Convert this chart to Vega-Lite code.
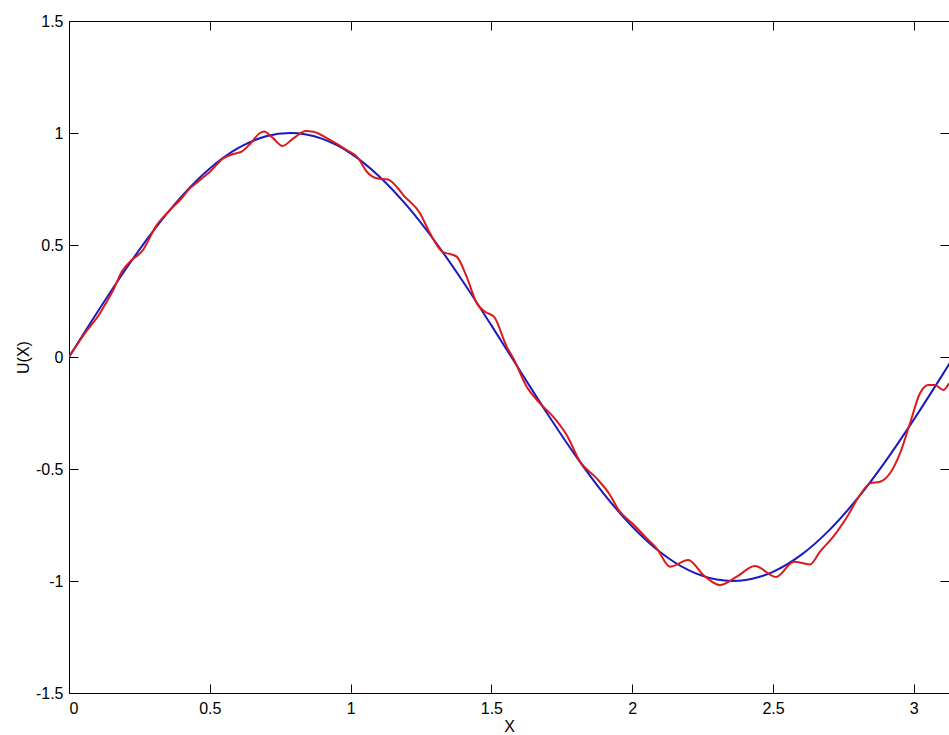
{
  "$schema": "https://vega.github.io/schema/vega-lite/v6.json",
  "autosize": "none",
  "padding": {"left": 69, "top": 21, "right": 0, "bottom": 42},
  "width": 880,
  "height": 672,
  "background": "white",
  "config": {
    "view": {"stroke": null},
    "axis": {
      "grid": false,
      "domainColor": "#000000",
      "domainWidth": 1,
      "tickColor": "#000000",
      "tickWidth": 1,
      "tickSize": -9,
      "labelFont": "Liberation Sans",
      "labelFontSize": 16,
      "labelColor": "#000000",
      "titleFont": "Liberation Sans",
      "titleFontSize": 16,
      "titleFontWeight": "normal",
      "titleColor": "#000000"
    }
  },
  "datasets": {
    "exact": [
      {"x": 0, "u": 0}, {"x": 0.1, "u": 0.1987}, {"x": 0.2, "u": 0.3894}, {"x": 0.3, "u": 0.5646},
      {"x": 0.4, "u": 0.7174}, {"x": 0.5, "u": 0.8415}, {"x": 0.6, "u": 0.932}, {"x": 0.7, "u": 0.9854},
      {"x": 0.7854, "u": 1.0}, {"x": 0.9, "u": 0.9738}, {"x": 1.0, "u": 0.9093}, {"x": 1.1, "u": 0.8085},
      {"x": 1.2, "u": 0.6755}, {"x": 1.3, "u": 0.5155}, {"x": 1.4, "u": 0.335}, {"x": 1.5, "u": 0.1411},
      {"x": 1.6, "u": -0.0584}, {"x": 1.7, "u": -0.2555}, {"x": 1.8, "u": -0.4425}, {"x": 1.9, "u": -0.6119},
      {"x": 2.0, "u": -0.7568}, {"x": 2.1, "u": -0.8716}, {"x": 2.2, "u": -0.9516}, {"x": 2.3, "u": -0.9937},
      {"x": 2.3562, "u": -1.0}, {"x": 2.45, "u": -0.9825}, {"x": 2.5, "u": -0.9589}, {"x": 2.6, "u": -0.8835},
      {"x": 2.7, "u": -0.7728}, {"x": 2.8, "u": -0.6313}, {"x": 2.9, "u": -0.4646}, {"x": 3.0, "u": -0.2794},
      {"x": 3.1, "u": -0.0831}, {"x": 3.1416, "u": 0}
    ],
    "approx": [
      {"x": 0, "u": 0}, {"x": 0.0568, "u": 0.106}, {"x": 0.1101, "u": 0.195}, {"x": 0.1339, "u": 0.247},
      {"x": 0.1573, "u": 0.299}, {"x": 0.1871, "u": 0.381}, {"x": 0.2227, "u": 0.433}, {"x": 0.2582, "u": 0.47},
      {"x": 0.3114, "u": 0.589}, {"x": 0.3587, "u": 0.656}, {"x": 0.3942, "u": 0.701}, {"x": 0.4297, "u": 0.753},
      {"x": 0.4652, "u": 0.79}, {"x": 0.5007, "u": 0.827}, {"x": 0.5479, "u": 0.887}, {"x": 0.5834, "u": 0.906},
      {"x": 0.6133, "u": 0.917}, {"x": 0.6428, "u": 0.951}, {"x": 0.6783, "u": 1.0}, {"x": 0.6925, "u": 1.007},
      {"x": 0.7255, "u": 0.976}, {"x": 0.7582, "u": 0.942}, {"x": 0.7965, "u": 0.976}, {"x": 0.8416, "u": 1.009},
      {"x": 0.8675, "u": 1.006}, {"x": 0.9268, "u": 0.969}, {"x": 0.9861, "u": 0.924}, {"x": 1.0245, "u": 0.891},
      {"x": 1.0582, "u": 0.826}, {"x": 1.0927, "u": 0.798}, {"x": 1.1328, "u": 0.792}, {"x": 1.1637, "u": 0.76},
      {"x": 1.1872, "u": 0.723}, {"x": 1.2464, "u": 0.642}, {"x": 1.282, "u": 0.552}, {"x": 1.3292, "u": 0.467},
      {"x": 1.353, "u": 0.46}, {"x": 1.3768, "u": 0.448}, {"x": 1.4123, "u": 0.358}, {"x": 1.4478, "u": 0.24},
      {"x": 1.4773, "u": 0.202}, {"x": 1.5092, "u": 0.18}, {"x": 1.5543, "u": 0.046}, {"x": 1.5778, "u": -0.006},
      {"x": 1.6254, "u": -0.133}, {"x": 1.6726, "u": -0.207}, {"x": 1.7198, "u": -0.267}, {"x": 1.7674, "u": -0.348},
      {"x": 1.8146, "u": -0.467}, {"x": 1.8739, "u": -0.542}, {"x": 1.9212, "u": -0.616}, {"x": 1.9496, "u": -0.679},
      {"x": 2.0064, "u": -0.75}, {"x": 2.0572, "u": -0.817}, {"x": 2.087, "u": -0.854}, {"x": 2.1342, "u": -0.936},
      {"x": 2.1992, "u": -0.906}, {"x": 2.2525, "u": -0.973}, {"x": 2.3118, "u": -1.018}, {"x": 2.3711, "u": -0.981},
      {"x": 2.4361, "u": -0.933}, {"x": 2.5107, "u": -0.982}, {"x": 2.5746, "u": -0.914}, {"x": 2.6314, "u": -0.926},
      {"x": 2.6669, "u": -0.869}, {"x": 2.7141, "u": -0.802}, {"x": 2.7628, "u": -0.714}, {"x": 2.8089, "u": -0.616},
      {"x": 2.8445, "u": -0.564}, {"x": 2.88, "u": -0.557}, {"x": 2.9155, "u": -0.519}, {"x": 2.951, "u": -0.43},
      {"x": 2.9865, "u": -0.296}, {"x": 3.022, "u": -0.162}, {"x": 3.0515, "u": -0.125}, {"x": 3.0753, "u": -0.125},
      {"x": 3.1048, "u": -0.147}, {"x": 3.125, "u": -0.117}
    ]
  },
  "layer": [
    {
      "data": {"name": "exact"},
      "mark": {"type": "line", "color": "#1a1ac0", "strokeWidth": 2, "interpolate": "monotone", "clip": true},
      "encoding": {
        "x": {"field": "x", "type": "quantitative", "scale": {"domain": [0, 3.125], "nice": false, "zero": false},
              "axis": {"orient": "bottom", "values": [0, 0.5, 1, 1.5, 2, 2.5, 3], "labelExpr": "datum.value + ''", "title": "X", "labelPadding": 16, "titlePadding": 2, "domain": true}},
        "y": {"field": "u", "type": "quantitative", "scale": {"domain": [-1.5, 1.5], "nice": false},
              "axis": {"orient": "left", "values": [-1.5, -1, -0.5, 0, 0.5, 1, 1.5], "labelExpr": "datum.value + ''", "title": "U(X)", "labelPadding": 15, "titlePadding": 4, "domain": true}}
      }
    },
    {
      "data": {"name": "approx"},
      "mark": {"type": "line", "color": "#dd1a1a", "strokeWidth": 2, "interpolate": "monotone", "clip": true},
      "encoding": {
        "x": {"field": "x", "type": "quantitative", "scale": {"domain": [0, 3.125], "nice": false, "zero": false},
              "axis": {"orient": "top", "values": [0, 0.5, 1, 1.5, 2, 2.5, 3], "labels": false, "title": null, "domain": true}},
        "y": {"field": "u", "type": "quantitative", "scale": {"domain": [-1.5, 1.5], "nice": false},
              "axis": {"orient": "right", "values": [-1.5, -1, -0.5, 0, 0.5, 1, 1.5], "labels": false, "title": null, "domain": false}}
      }
    }
  ],
  "resolve": {"axis": {"x": "independent", "y": "independent"}}
}
